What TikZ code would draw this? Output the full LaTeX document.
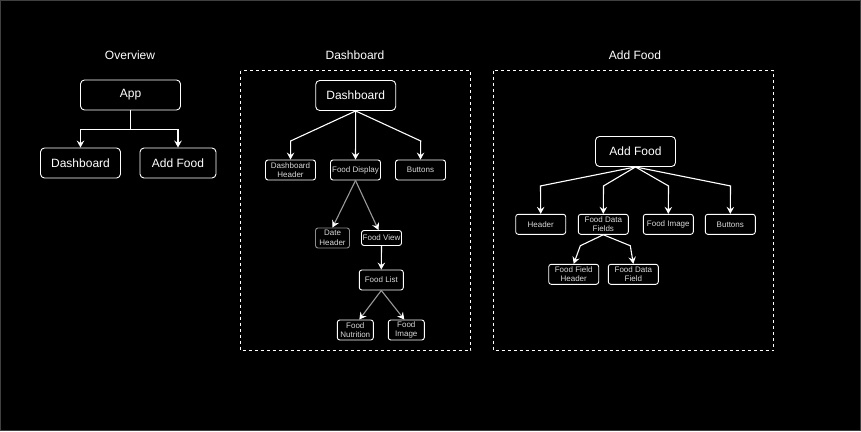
\documentclass[tikz,border=0pt]{standalone}
\usepackage{fontspec}
\setmainfont{Liberation Sans}
\usetikzlibrary{arrows.meta}
\begin{document}
\begin{tikzpicture}[x=1pt,y=-1pt,
    box/.style={draw=white, line width=0.9pt, rounded corners=4pt, inner sep=0pt,
        minimum width=80pt, minimum height=30pt, text=white, font=\fontsize{12}{14}\selectfont},
    sbox/.style={draw=white, line width=0.9pt, rounded corners=2.5pt, inner sep=0pt, align=center,
        minimum width=50pt, minimum height=20pt, text=black!15, font=\fontsize{8}{9.5}\selectfont},
    title/.style={text=white, font=\fontsize{12}{14}\selectfont},
    arr/.style={draw=white, line width=1.1pt, -{Stealth[length=7pt,width=7.5pt,inset=2.5pt]}},
    garr/.style={draw=black!40, line width=1.1pt, -{Stealth[length=7pt,width=7.5pt,inset=2.5pt,color=white]}}]
    \useasboundingbox (0,0) rectangle (861,431);
    \draw[fill=black, draw=black!75, line width=0.8pt] (0.4,0.4) rectangle (860.6,430.6);
    \draw[draw=white, line width=0.8pt, dash pattern=on 3pt off 3pt] (240.5,70.5) rectangle (470.5,350.5);
    \draw[draw=white, line width=0.8pt, dash pattern=on 3pt off 3pt] (493.5,70.5) rectangle (773.5,350.5);

    \node[title] (ovtitle) at (130,55) {Overview};
    \node[title] (dbtitle) at (355,55) {Dashboard};
    \node[title] (aftitle) at (635,55) {Add Food};

    \node[box, minimum width=100pt] (app) at (130.5,95) {App};
    \node[box] (ovdash) at (80.5,163) {Dashboard};
    \node[box, minimum width=76pt] (ovadd) at (178,163) {Add Food};
    \draw[arr] (app.south) -- ++(0,19) -| (ovdash.north);
    \draw[arr] (app.south) -- ++(0,19) -| (ovadd.north);

    \node[box] (dash) at (355.7,95.5) {Dashboard};
    \node[sbox] (dhead) at (290.5,170) {Dashboard\\Header};
    \node[sbox] (fdisp) at (355.5,170) {Food Display};
    \node[sbox] (dbtn) at (420.5,170) {Buttons};
    \draw[arr] (dash.south) -- ++(-65,30) -- (dhead.north);
    \draw[arr] (dash.south) -- (fdisp.north);
    \draw[arr] (dash.south) -- ++(65,30) -- (dbtn.north);

    \node[sbox, draw=black!45, minimum width=34pt] (datehdr) at (332.5,238) {Date\\Header};
    \node[sbox, minimum width=40pt, minimum height=15pt] (fview) at (381.5,238) {Food View};
    \draw[garr] (fdisp.south) -- (datehdr.north);
    \draw[garr] (fdisp.south) -- ([xshift=-3pt]fview.north);

    \node[sbox, minimum width=44pt] (flist) at (381.3,280) {Food List};
    \draw[arr] (fview.south) -- (flist.north);

    \node[sbox, minimum width=36pt] (fnut) at (355.3,330) {Food\\Nutrition};
    \node[sbox, minimum width=36pt] (fimg) at (406.3,330) {Food\\Image};
    \draw[garr] (flist.south) -- ([xshift=4pt]fnut.north);
    \draw[garr] (flist.south) -- ([xshift=-2pt]fimg.north);

    \node[box] (addf) at (635.5,151.5) {Add Food};
    \node[sbox] (ahead) at (540.7,224.3) {Header};
    \node[sbox] (afields) at (603.3,224.3) {Food Data\\Fields};
    \node[sbox] (aimg) at (668.3,224.3) {Food Image};
    \node[sbox] (abtn) at (730.3,224.3) {Buttons};
    \draw[arr] (addf.south) -- ++(-95,19) -- (ahead.north);
    \draw[arr] (addf.south) -- ++(-32,19) -- (afields.north);
    \draw[arr] (addf.south) -- ++(33,19) -- (aimg.north);
    \draw[arr] (addf.south) -- ++(95,19) -- (abtn.north);

    \node[sbox] (ffhead) at (573.7,274.3) {Food Field\\Header};
    \node[sbox] (fdfield) at (633.3,274.3) {Food Data\\Field};
    \draw[arr] (afields.south) -- ++(-23,11) -- (ffhead.north);
    \draw[arr] (afields.south) -- ++(27,11) -- (fdfield.north);
\end{tikzpicture}
\end{document}
